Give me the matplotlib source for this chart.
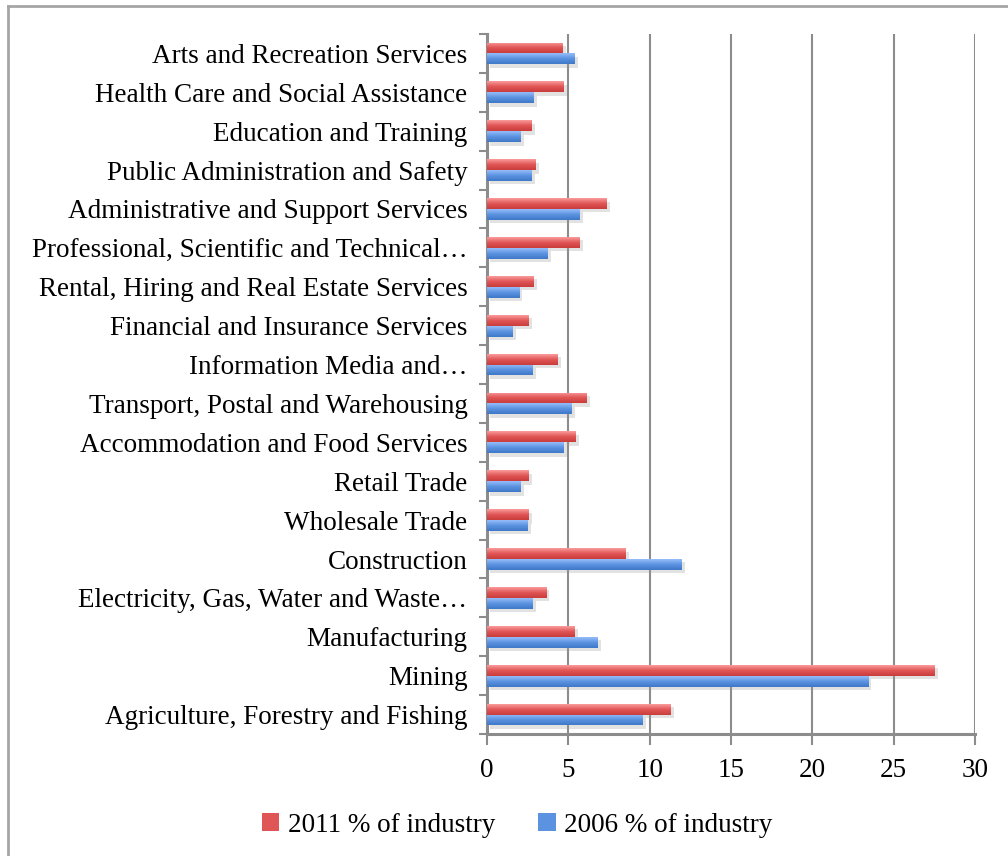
import numpy as np
import matplotlib
matplotlib.use("Agg")
from matplotlib import pyplot as plt
from matplotlib import patheffects as pe
from matplotlib.patches import Patch
from matplotlib.colors import LinearSegmentedColormap
from matplotlib.lines import Line2D

# Industries listed bottom to top
industries = [
    "Agriculture, Forestry and Fishing",
    "Mining",
    "Manufacturing",
    "Electricity, Gas, Water and Waste\u2026",
    "Construction",
    "Wholesale Trade",
    "Retail Trade",
    "Accommodation and Food Services",
    "Transport, Postal and Warehousing",
    "Information Media and\u2026",
    "Financial and Insurance Services",
    "Rental, Hiring and Real Estate Services",
    "Professional, Scientific and Technical\u2026",
    "Administrative and Support Services",
    "Public Administration and Safety",
    "Education and Training",
    "Health Care and Social Assistance",
    "Arts and Recreation Services",
]

pct_2011 = [11.27, 27.5, 5.38, 3.63, 8.5, 2.57, 2.57, 5.46, 6.1, 4.31,
            2.57, 2.88, 5.69, 7.33, 2.98, 2.73, 4.72, 4.62]
pct_2006 = [9.54, 23.42, 6.77, 2.8, 11.95, 2.5, 2.06, 4.7, 5.17, 2.8,
            1.56, 1.97, 3.72, 5.69, 2.73, 2.06, 2.86, 5.36]

x_ticks = [0, 5, 10, 15, 20, 25, 30]

plt.rcParams['font.family'] = ['Liberation Serif', 'DejaVu Serif']

fig = plt.figure(figsize=(10.08, 8.56), dpi=100)
ax = fig.add_axes([0.4831, 0.1425, 0.4842, 0.8178])

y = np.arange(len(industries))
h = 0.28

red_cmap = LinearSegmentedColormap.from_list("red", ["#c93c3c", "#e05555", "#fb9c9c"])
blue_cmap = LinearSegmentedColormap.from_list("blue", ["#3f78c8", "#5b93e0", "#96bdfa"])

shadow = [pe.SimplePatchShadow(offset=(2.5, -2.5), shadow_rgbFace="#999999", alpha=0.28),
          pe.Normal()]

bars_red = ax.barh(y + h / 2, pct_2011, height=h, color="#e05555", zorder=3,
                   path_effects=shadow)
bars_blue = ax.barh(y - h / 2, pct_2006, height=h, color="#5b93e0", zorder=3,
                    path_effects=shadow)

grad = np.linspace(0, 1, 64).reshape(-1, 1)
for bars, cmap in [(bars_red, red_cmap), (bars_blue, blue_cmap)]:
    for bar in bars:
        x0, y0 = bar.get_x(), bar.get_y()
        w, hh = bar.get_width(), bar.get_height()
        im = ax.imshow(grad, cmap=cmap, origin="lower", aspect="auto",
                       extent=[x0, x0 + w, y0, y0 + hh], zorder=4)
        im.set_clip_path(bar)

ax.set_xlim(0, 30)
ax.set_ylim(-0.5, len(industries) - 0.5)

ax.set_xticks(x_ticks)
ax.set_xticklabels([str(t) for t in x_ticks], fontsize=19.5)
ax.set_yticks(y)
ax.set_yticklabels(industries, fontsize=19.5)
ax.set_yticks(np.arange(len(industries) + 1) - 0.5, minor=True)

ax.tick_params(axis="y", which="major", length=0, pad=14)
ax.tick_params(axis="y", which="minor", length=6, width=1.5, color="#8c8c8c", direction="out")
ax.tick_params(axis="x", length=8, width=1.5, color="#8c8c8c", direction="out", pad=9)

ax.grid(axis="x", color="#8c8c8c", linewidth=1.5, zorder=0)
ax.set_axisbelow(True)
for side in ["top", "right"]:
    ax.spines[side].set_visible(False)
for side in ["left", "bottom"]:
    ax.spines[side].set_color("#8c8c8c")
    ax.spines[side].set_linewidth(2.2)

handles = [Patch(facecolor="#e05555", label="2011 % of industry"),
           Patch(facecolor="#5b93e0", label="2006 % of industry")]
fig.legend(handles=handles, loc="center", bbox_to_anchor=(0.513, 0.036), ncol=2,
           frameon=False, fontsize=19.5, handlelength=0.65, handleheight=0.65,
           handletextpad=0.3, columnspacing=1.6)

# outer chart border
fig.add_artist(Line2D([0.008, 0.008], [0, 0.993], color="#a6a6a6", lw=2))
fig.add_artist(Line2D([0.008, 1.0], [0.993, 0.993], color="#a6a6a6", lw=2))

fig.savefig("out.png", dpi=100)
